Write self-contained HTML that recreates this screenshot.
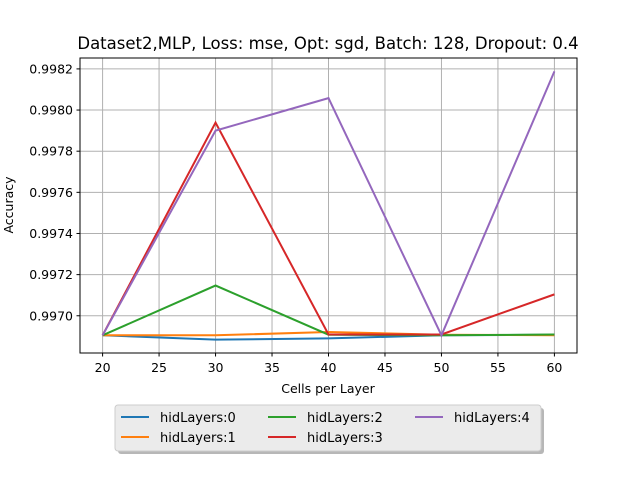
<!DOCTYPE html>
<html><head><meta charset="utf-8"><style>
body{margin:0;background:#fff;font-family:"Liberation Sans","DejaVu Sans",sans-serif;}
svg text{font-family:"DejaVu Sans","Liberation Sans",sans-serif;fill:#000;}
</style></head><body>
<svg id="chart" width="640" height="480" xmlns="http://www.w3.org/2000/svg">
<rect width="640" height="480" fill="#fff"/>
<g id="grid"></g>
<g id="lines"></g>
<rect x="80" y="58" width="497" height="295" fill="none" stroke="#000" stroke-width="1"/>
<g id="ticks"></g>
<text x="328" y="49" font-size="16.5" text-anchor="middle">Dataset2,MLP, Loss: mse, Opt: sgd, Batch: 128, Dropout: 0.4</text>
<text x="328" y="393" font-size="12.5" text-anchor="middle">Cells per Layer</text>
<text transform="translate(13,205) rotate(-90)" font-size="12.5" text-anchor="middle">Accuracy</text>
<g>
<rect x="118" y="408" width="426" height="46" rx="3" fill="#999" opacity="0.7"/>
<rect x="115" y="405" width="426" height="46" rx="3" fill="#ebebeb" stroke="#ccc"/>
<g id="legend"></g>
</g>
</svg>
<script>
const categories=[20,30,40,50,60];
const seriesNames=["hidLayers:0","hidLayers:1","hidLayers:2","hidLayers:3","hidLayers:4"];
const s0=[0.996905,0.996884,0.996890,0.996905,0.996908];
const s1=[0.996905,0.996905,0.996921,0.996908,0.996905];
const s2=[0.996905,0.997147,0.996908,0.996905,0.996909];
const s3=[0.996905,0.997939,0.996909,0.996909,0.997104];
const s4=[0.996905,0.997900,0.998058,0.996905,0.998188];
const xTicks=[20,25,30,35,40,45,50,55,60];
const yTicks=[0.9970,0.9972,0.9974,0.9976,0.9978,0.9980,0.9982];
const colors=["#1f77b4","#ff7f0e","#2ca02c","#d62728","#9467bd"];
const NS="http://www.w3.org/2000/svg";
const X=v=>80+(v-18)/44*497;
const Y=v=>353-(v-0.996819)/0.001434*295;
function mk(tag,attrs,parent){const e=document.createElementNS(NS,tag);for(const k in attrs)e.setAttribute(k,attrs[k]);parent.appendChild(e);return e;}
const grid=document.getElementById('grid'),ticks=document.getElementById('ticks'),lines=document.getElementById('lines'),leg=document.getElementById('legend');
xTicks.forEach(t=>{
 const g=mk('line',{x1:X(t),x2:X(t),y1:58,y2:353,stroke:'#b0b0b0','stroke-width':1},grid);
 
 
 mk('line',{x1:X(t),x2:X(t),y1:353,y2:356.5,stroke:'#000'},ticks);
 const tx=mk('text',{x:X(t),y:372,'font-size':12.5,'text-anchor':'middle'},ticks);
 tx.textContent=t;
 
 
});
yTicks.forEach(t=>{
 const g=mk('line',{x1:80,x2:577,y1:Y(t),y2:Y(t),stroke:'#b0b0b0','stroke-width':1},grid);
 
 
 mk('line',{x1:76.5,x2:80,y1:Y(t),y2:Y(t),stroke:'#000'},ticks);
 const tx=mk('text',{x:73,y:Y(t)+4.5,'font-size':12.5,'text-anchor':'end'},ticks);
 tx.textContent=t.toFixed(4);
 
 
});
[s0,s1,s2,s3,s4].forEach((s,i)=>{
 const p=mk('polyline',{points:s.map((v,j)=>X(categories[j])+','+Y(v)).join(' '),fill:'none',stroke:colors[i],'stroke-width':2},lines);
 
 
});
const lpos=[[121,417],[121,437],[268,417],[268,437],[415,417]];
seriesNames.forEach((n,i)=>{
 const [x,y]=lpos[i];
 const g=mk('g',{},leg);
 
 
 mk('line',{x1:x,x2:x+28,y1:y,y2:y,stroke:colors[i],'stroke-width':2},g);
 const t=mk('text',{x:x+39,y:y+5,'font-size':13},g);
 t.textContent=n;
});
</script>
</body></html>
